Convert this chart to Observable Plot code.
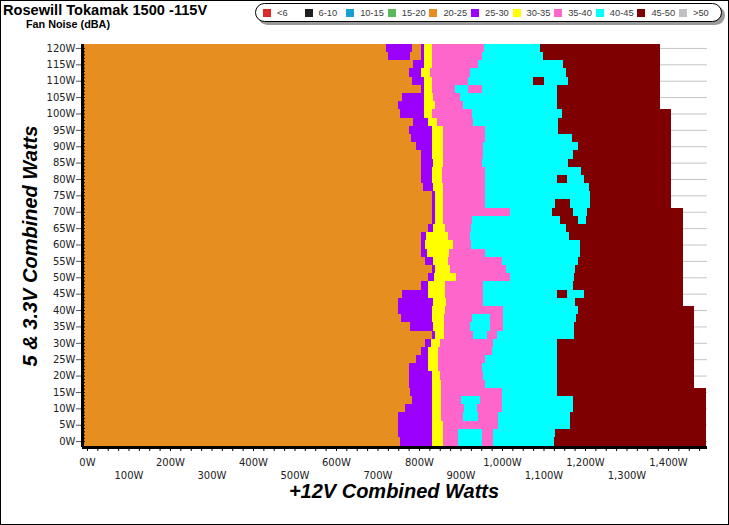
<!DOCTYPE html>
<html><head><meta charset="utf-8">
<script src="https://cdn.jsdelivr.net/npm/d3@7"></script>
<script src="https://cdn.jsdelivr.net/npm/@observablehq/plot@0.6"></script>
<style>
body{margin:0;background:#fff;}
#wrap{position:relative;width:729px;height:525px;overflow:hidden;font-family:"Liberation Sans",Arial,sans-serif;background:#fff;}
#frame{position:absolute;left:0;top:0;width:729px;height:525px;box-sizing:border-box;border:1px solid #000;pointer-events:none;}
#title{position:absolute;left:3px;top:3px;font-weight:bold;font-size:14.6px;line-height:15px;white-space:nowrap;}
#subtitle{position:absolute;left:26px;top:19px;font-weight:bold;font-size:10.8px;line-height:11px;white-space:nowrap;}
#legend{position:absolute;left:255px;top:3px;width:465px;height:17px;border:1.5px solid #000;border-radius:10px;box-shadow:3px 3px 0 #9a9a9a;background:#fff;}
.sw{position:absolute;top:4.5px;width:8px;height:8px;}
.lb{position:absolute;top:2.5px;font-size:9.3px;line-height:12px;color:#3a3a3a;white-space:nowrap;}
#chart{position:absolute;left:0;top:0;}
#xtitle{position:absolute;left:394px;top:491px;transform:translate(-50%,-50%);font-weight:bold;font-style:italic;font-size:20px;white-space:nowrap;}
#ytitle{position:absolute;left:30px;top:246px;transform:translate(-50%,-50%) rotate(-90deg);font-weight:bold;font-style:italic;font-size:20px;white-space:nowrap;}
</style>
</head><body>
<div id="wrap">
  <div id="chart"></div>
  <div id="title">Rosewill Tokamak 1500 -115V</div>
  <div id="subtitle">Fan Noise (dBA)</div>
  <div id="legend"></div>
  <div id="xtitle">+12V Combined Watts</div>
  <div id="ytitle">5 &amp; 3.3V Combined Watts</div>
  <div id="frame"></div>
</div>
<script>
// Noise bands (legend)
const bandLabels = ["<6","6-10","10-15","15-20","20-25","25-30","30-35","35-40","40-45","45-50",">50"];
const bandColors = ["#dc2a2a","#1f1f1f","#1a9fd5","#5bb85d","#e68e1f","#9b00ff","#ffff00","#ff66cc","#00ffff","#7f0000","#c0c0c0"];

// Axis ticks
const yTicks = [0,5,10,15,20,25,30,35,40,45,50,55,60,65,70,75,80,85,90,95,100,105,110,115,120];
const xTicksTop = [0,200,400,600,800,1000,1200,1400];
const xTicksBottom = [100,300,500,700,900,1100,1300];

// Rows of the map: 5V & 3.3V combined load (W), top to bottom
const rowLoads = [120,117.5,115,112.5,110,107.5,105,102.5,100,97.5,95,92.5,90,87.5,85,82.5,80,77.5,75,72.5,70,67.5,65,62.5,60,57.5,55,52.5,50,47.5,45,42.5,40,37.5,35,32.5,30,27.5,25,22.5,20,17.5,15,12.5,10,7.5,5,2.5,0];

// band index codes
const O=4,P=5,Y=6,K=7,C=8,M=9;
// Each row: band, +12V watts where that band ends (left to right)
const rowSegments = [
 [O,720,P,783,O,805,P,812,Y,831,K,957,C,1092,M,1381],
 [O,725,P,778,O,805,P,812,Y,831,K,952,C,1098,M,1381],
 [O,786,P,812,Y,831,K,942,C,1147,M,1381],
 [O,776,P,805,Y,826,K,923,C,1154,M,1381],
 [O,783,P,812,Y,831,K,918,C,1075,M,1101,C,1159,M,1381],
 [O,805,P,812,Y,831,K,887,C,918,K,952,C,1133,M,1381],
 [O,759,P,812,Y,834,K,899,C,1133,M,1381],
 [O,749,P,812,Y,839,K,906,C,1133,M,1381],
 [O,754,P,812,Y,831,K,928,C,1145,M,1407],
 [O,786,P,822,Y,843,K,930,C,1135,M,1407],
 [O,776,P,831,Y,858,K,959,C,1135,M,1407],
 [O,781,P,831,Y,858,K,959,C,1169,M,1407],
 [O,793,P,831,Y,858,K,954,C,1183,M,1407],
 [O,805,P,831,Y,858,K,954,C,1171,M,1407],
 [O,805,P,834,Y,858,K,952,C,1159,M,1407],
 [O,805,P,831,Y,855,K,959,C,1190,M,1407],
 [O,805,P,831,Y,855,K,959,C,1133,M,1157,C,1198,M,1407],
 [O,810,P,834,Y,858,K,959,C,1210,M,1407],
 [O,831,P,839,Y,858,K,959,C,1212,M,1407],
 [O,831,P,839,Y,858,K,959,C,1128,M,1164,C,1212,M,1407],
 [O,831,P,839,Y,858,K,1019,C,1120,M,1171,C,1205,M,1436],
 [O,831,P,839,Y,858,K,928,C,1140,M,1183,C,1202,M,1436],
 [O,822,P,834,Y,863,K,925,C,1154,M,1436],
 [O,805,P,817,Y,870,K,923,C,1161,M,1436],
 [O,805,P,815,Y,882,K,925,C,1188,M,1436],
 [O,805,P,819,Y,872,K,959,C,1188,M,1436],
 [O,815,P,834,Y,870,K,1000,C,1183,M,1436],
 [O,831,P,839,Y,875,K,1010,C,1176,M,1436],
 [O,822,P,836,Y,889,K,1019,C,1174,M,1436],
 [O,805,P,822,Y,863,K,954,C,1171,M,1436],
 [O,759,P,822,Y,863,K,954,C,1133,M,1157,C,1198,M,1436],
 [O,749,P,834,Y,865,K,954,C,1176,M,1436],
 [O,749,P,831,Y,863,K,1002,C,1183,M,1463],
 [O,757,P,831,Y,860,K,928,C,971,K,1002,C,1178,M,1463],
 [O,778,P,834,Y,860,K,923,C,971,K,1002,C,1174,M,1463],
 [O,831,P,839,Y,860,K,930,C,964,K,988,C,1174,M,1463],
 [O,815,P,829,Y,851,K,978,C,1133,M,1463],
 [O,805,P,822,Y,846,K,976,C,1133,M,1463],
 [O,793,P,822,Y,846,K,959,C,1133,M,1463],
 [O,776,P,822,Y,846,K,952,C,1133,M,1463],
 [O,776,P,831,Y,851,K,954,C,1133,M,1463],
 [O,776,P,831,Y,853,K,959,C,1133,M,1463],
 [O,778,P,831,Y,853,K,1000,C,1133,M,1492],
 [O,783,P,831,Y,853,K,901,C,947,K,1000,C,1171,M,1492],
 [O,766,P,831,Y,853,K,908,C,940,K,1000,C,1171,M,1492],
 [O,749,P,831,Y,853,K,906,C,942,K,990,C,1164,M,1492],
 [O,749,P,831,Y,858,K,990,C,1164,M,1492],
 [O,749,P,831,Y,858,K,894,C,952,K,978,C,1128,M,1492],
 [O,754,P,831,Y,858,K,894,C,952,K,978,C,1125,M,1492]
];

// scale extents
const xMin = -12, xMax = 1494, yMin = -1.8, yMax = 121.2;

const cells = [];
rowLoads.forEach((L, i) => {
  const top = i === 0 ? yMax : (L + rowLoads[i - 1]) / 2;
  const bot = i === rowLoads.length - 1 ? yMin : (L + rowLoads[i + 1]) / 2;
  const seg = rowSegments[i];
  let start = xMin;
  for (let k = 0; k < seg.length; k += 2) {
    cells.push({band: bandLabels[seg[k]], x1: start, x2: seg[k + 1], y1: bot, y2: top});
    start = seg[k + 1];
  }
});

const yMinor = d3.range(0, 121, 1);
const xMinor = d3.range(0, 1476, 25);
const fmt = d => d3.format(",")(d) + "W";

const chart = Plot.plot({
  width: 729, height: 525,
  marginTop: 44, marginRight: 22, marginBottom: 78, marginLeft: 82,
  x: {domain: [xMin, xMax]},
  y: {domain: [yMin, yMax]},
  color: {type: "ordinal", domain: bandLabels, range: bandColors},
  style: {fontFamily: "DejaVu Sans", fontSize: "10px", color: "#222", background: "transparent", overflow: "visible"},
  marks: [
    Plot.ruleY(yTicks, {stroke: "#c4c4c4", strokeWidth: 1}),
    Plot.rect(cells, {x1: "x1", x2: "x2", y1: "y1", y2: "y2", fill: "band", shapeRendering: "crispEdges"}),
    Plot.axisY({ticks: yTicks, tickFormat: d => d + "W", tickSize: 6, tickPadding: 1, label: null, stroke: "#555"}),
    Plot.axisY({ticks: yMinor, tickSize: 3, tickFormat: () => "", dx: 3, label: null, stroke: "#000"}),
    Plot.axisX({ticks: xMinor, tickSize: 4, tickFormat: () => "", label: null, stroke: "#000"}),
    Plot.axisX({ticks: xTicksTop, tickFormat: fmt, tickSize: 0, tickPadding: 11, label: null}),
    Plot.axisX({ticks: xTicksBottom, tickFormat: fmt, tickSize: 0, tickPadding: 24, label: null}),
    Plot.ruleX([xMin], {stroke: "#000", strokeWidth: 3}),
    Plot.ruleY([yMin], {stroke: "#000", strokeWidth: 3})
  ]
});
document.getElementById("chart").appendChild(chart);

// legend
const legend = document.getElementById("legend");
bandLabels.forEach((lab, i) => {
  const x = 7 + i * 41.6;
  const sw = document.createElement("div");
  sw.className = "sw"; sw.style.left = x + "px"; sw.style.background = bandColors[i];
  legend.appendChild(sw);
  const t = document.createElement("div");
  t.className = "lb"; t.style.left = (x + 14) + "px"; t.textContent = lab;
  legend.appendChild(t);
});
</script>
</body></html>
